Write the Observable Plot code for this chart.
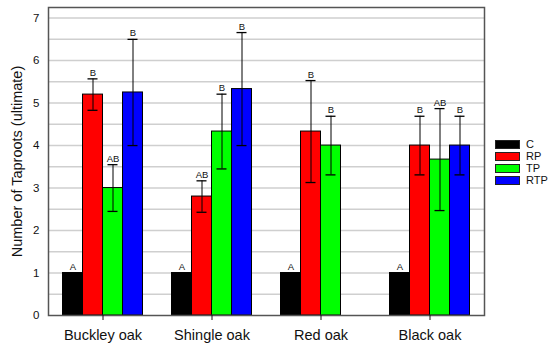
<!DOCTYPE html>
<html>
<head>
<meta charset="utf-8">
<script src="https://cdn.jsdelivr.net/npm/d3@7"></script>
<script src="https://cdn.jsdelivr.net/npm/@observablehq/plot@0.6"></script>
<style>
  body { margin: 0; background: #fff; }
  #chart { position: relative; width: 550px; height: 349px; font-family: "Liberation Sans", Arial, sans-serif; }
  #legend { position: absolute; left: 495px; top: 138px; font-size: 11px; color: #111; }
  .row { display: flex; align-items: center; height: 12px; }
  .sw { width: 25px; height: 9px; box-sizing: border-box; border: 1px solid #222; }
  .lab { margin-left: 6px; line-height: 12px; }
</style>
</head>
<body>
<div id="chart"><div id="legend"></div></div>
<script>
const groups = ["Buckley oak", "Shingle oak", "Red oak", "Black oak"];
const series = ["C", "RP", "TP", "RTP"];
const seriesColors = ["#000000", "#ff0000", "#00ff00", "#0000ff"];

// mean values per series, one entry per group
const meanC   = [1, 1, 1, 1];
const meanRP  = [5.2, 2.8, 4.33, 4.0];
const meanTP  = [3.0, 4.33, 4.0, 3.67];
const meanRTP = [5.25, 5.33, null, 4.0];

// error bar half-widths
const errC   = [0, 0, 0, 0];
const errRP  = [0.37, 0.37, 1.2, 0.69];
const errTP  = [0.55, 0.88, 0.69, 1.2];
const errRTP = [1.25, 1.33, null, 0.69];

// significance letters
const letC   = ["A", "A", "A", "A"];
const letRP  = ["B", "AB", "B", "B"];
const letTP  = ["AB", "B", "B", "AB"];
const letRTP = ["B", "B", null, "B"];

const yTicks = [0, 1, 2, 3, 4, 5, 6, 7];
const gridValues = [0.5, 1, 1.5, 2, 2.5, 3, 3.5, 4, 4.5, 5, 5.5, 6, 6.5, 7];
const yTitle = "Number of Taproots (ultimate)";

const means = {C: meanC, RP: meanRP, TP: meanTP, RTP: meanRTP};
const errs = {C: errC, RP: errRP, TP: errTP, RTP: errRTP};
const lets = {C: letC, RP: letRP, TP: letTP, RTP: letRTP};

const rows = [];
groups.forEach((g, i) => series.forEach(s => {
  const v = means[s][i];
  if (v == null) return;
  rows.push({group: g, series: s, value: v, err: errs[s][i], letter: lets[s][i]});
}));
const errRows = rows.filter(d => d.err > 0);

const chart = Plot.plot({
  width: 550,
  height: 349,
  marginLeft: 46.5,
  marginRight: 65.5,
  marginTop: 7,
  marginBottom: 34,
  style: {fontFamily: "'Liberation Sans', Arial, sans-serif", fontSize: "11.5px", color: "#111", background: "#fff"},
  fx: {domain: groups, padding: 0, label: null},
  x: {domain: series, paddingInner: 0, paddingOuter: 0.69, axis: null},
  y: {domain: [0, 7.25]},
  color: {domain: series, range: seriesColors},
  marks: [
    Plot.gridY(gridValues, {stroke: "#cfcfcf", strokeOpacity: 1, strokeWidth: 1.5}),
    Plot.barY(rows, {fx: "group", x: "series", y: "value", fill: "series", stroke: "#000", strokeWidth: 1}),
    Plot.ruleX(errRows, {fx: "group", x: "series", y1: d => d.value - d.err, y2: d => d.value + d.err, stroke: "#000", strokeWidth: 1}),
    Plot.tickY(errRows, {fx: "group", x: "series", y: d => d.value - d.err, insetLeft: 5, insetRight: 5, stroke: "#000", strokeWidth: 1.3}),
    Plot.tickY(errRows, {fx: "group", x: "series", y: d => d.value + d.err, insetLeft: 5, insetRight: 5, stroke: "#000", strokeWidth: 1.3}),
    Plot.text(rows, {fx: "group", x: "series", y: d => d.value + d.err, text: "letter", lineAnchor: "bottom", dy: -3, fontSize: 9.5, fill: "#111"}),
    Plot.frame({facet: "super", stroke: "#555", strokeWidth: 1.5}),
    Plot.axisY(yTicks, {tickSize: 0, tickPadding: 9, fontSize: 11.5, label: null}),
    Plot.axisFx({anchor: "bottom", tickSize: 5, tickPadding: 9.7, fontSize: 14.5, label: null}),
    Plot.text([yTitle], {text: d => d, frameAnchor: "left", textAnchor: "middle", lineAnchor: "middle", rotate: -90, dx: -30.7, fontSize: 14.5, fill: "#111", facet: "super"})
  ]
});
document.getElementById("chart").prepend(chart);

const legend = document.getElementById("legend");
series.forEach((s, i) => {
  const row = document.createElement("div");
  row.className = "row";
  const sw = document.createElement("div");
  sw.className = "sw";
  sw.style.background = seriesColors[i];
  const lab = document.createElement("span");
  lab.className = "lab";
  lab.textContent = s;
  row.append(sw, lab);
  legend.append(row);
});
</script>
</body>
</html>
